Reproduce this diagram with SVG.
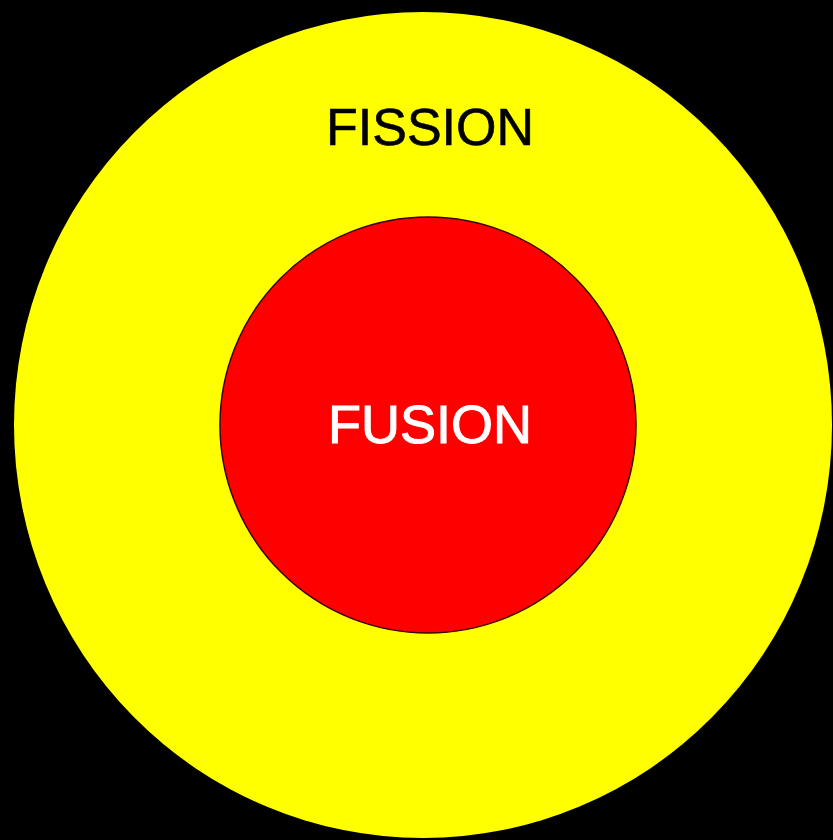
<svg xmlns="http://www.w3.org/2000/svg" width="833" height="840" viewBox="0 0 833 840">
<style>
.lbl{font-family:"Liberation Sans",Arial,sans-serif;text-anchor:middle}
</style>
<rect x="0" y="0" width="833" height="840" fill="#000"/>
<g id="fission">
<ellipse cx="423" cy="425" rx="409" ry="413" fill="#ffff00"/>
<text class="lbl" x="430" y="145" font-size="52" fill="#000" stroke="#000" stroke-width="0.6">FISSION</text>
</g>
<g id="fusion">
<circle cx="428" cy="425" r="208" fill="#ff0000" stroke="#3a0000" stroke-width="1.5"/>
<text class="lbl" x="430" y="443" font-size="54" fill="#fff" stroke="#fff" stroke-width="1">FUSION</text>
</g>
<g id="connectors"></g>
</svg>
